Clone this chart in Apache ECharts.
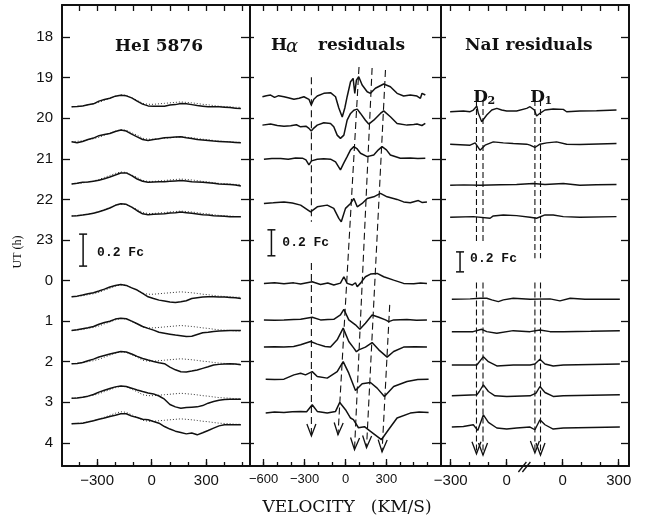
<!DOCTYPE html>
<html>
<head>
<meta charset="utf-8">
<title>HeI 5876, H&alpha; and NaI residual profiles</title>
<script src="https://cdn.jsdelivr.net/npm/echarts@6/dist/echarts.min.js"></script>
<style>
html,body{margin:0;padding:0;background:#fff;}
#chart{width:650px;height:519px;}
</style>
</head>
<body>
<div id="chart"></div>
<script>
// ================= data =================
// UT axis in hours, running on past midnight (24 = 0 h, 28 = 4 h)
const utTicks = [18, 19, 20, 21, 22, 23, 24, 25, 26, 27, 28];

// ---- HeI 5876: flux above the continuum in % of Fc, common velocity grid (km/s)
const heVelocity = [-440, -410, -380, -350, -320, -290, -260, -230, -200, -170, -140, -110, -80, -50, -20, 10,
                    40, 70, 100, 130, 160, 190, 220, 250, 280, 310, 340, 370, 400, 430, 460, 490];
const heTimes = [19.72, 20.58, 21.62, 22.41, 24.40, 25.23, 26.05, 26.90, 27.53];
// mean profile (dotted)
const heMean = [0, .3, .6, 1.3, 1.9, 2.8, 4.1, 5.3, 6.6, 7.5, 7.2, 5.6, 4.1, 2.2, 1.6, 1.6,
                1.9, 2.2, 2.5, 2.8, 3.1, 2.8, 2.5, 2.1, 1.6, 1.3, .8, .4, .2, 0, -.3, -.3];
const heI_1 = [0, .2, .6, 1.3, 1.9, 3.6, 4.6, 5.4, 6.7, 7.3, 6.9, 5.6, 3.6, 1.7, .6, .4, .4, .4, 1.1, 1.4, 2.1, 1.9, 1.4, .8, .4, 0, 0, 0, -.2, -.4, -.8, -1.1];
const heI_2 = [0, -.6, .2, 1.4, 2.3, 3.8, 4.6, 5.2, 6.4, 7.3, 6.7, 4.8, 3.1, 1.4, .8, 1.4, 1.9, 2.5, 2.7, 2.9, 3.1, 2.5, 2.1, 1.4, 1.1, .8, .4, .2, 0, -.2, -.4, -.6];
const heI_3 = [0, .4, 1.1, 1.3, 1.7, 2.3, 3.3, 4.4, 5.6, 6.9, 6.9, 5.2, 3.1, 1.7, 1.1, 1.3, 1.4, 1.4, 1.7, 1.9, 2.1, 1.9, 1.4, 1.3, 1.1, .8, .4, 0, -.2, -.4, -.6, -1.3];
const heI_4 = [0, .2, .6, 1.1, 1.7, 2.7, 3.8, 5, 6.7, 7.7, 7.3, 5.6, 3.3, 1.4, .8, 1.1, 1.3, 1.4, 1.9, 2.1, 2.5, 2.1, 1.7, 1.3, .8, .6, .2, 0, -.2, -.4, -.4, -.4];
const heI_5 = [0, .4, 1.1, 1.9, 2.5, 3.6, 4.8, 6.1, 7.1, 7.7, 7.1, 5.6, 4.2, 2.1, 0, -1.1, -2.1, -2.7, -3.3, -3.6, -3.1, -2.5, -1.1, -.6, -.2, 0, 0, -.2, -.2, -.4, -.6, -1.1];
const heI_6 = [0, .4, 1.1, 1.7, 2.5, 3.9, 5, 5.8, 7.1, 7.7, 7.3, 5.8, 4.2, 2.5, 1.3, .2, -1.1, -1.7, -2.3, -2.9, -3.3, -3.8, -3.6, -2.5, -1.4, -1.1, -.6, -.4, -.2, 0, 0, 0];
const heI_7 = [0, .2, .8, 1.9, 2.9, 4.2, 5.2, 6.1, 6.9, 7.7, 7.3, 6.1, 4.6, 3.3, 2.3, 1.4, .6, 0, -2.1, -3.8, -5, -5.2, -4.6, -3.9, -2.9, -1.9, -.8, -.4, -.2, 0, -.2, -.6];
const heI_8 = [0, .2, .6, 1.3, 2.3, 3.8, 5, 6.1, 7.1, 7.7, 7.3, 6.3, 5.2, 4.2, 3.3, 2.7, 1.4, -.6, -3.9, -5.4, -6.3, -5.8, -5.6, -5.4, -4.6, -3.1, -2.1, -1.3, -.8, -.6, -.6, -.6];
const heI_9 = [0, .2, .4, 1.1, 1.9, 2.9, 3.6, 4.6, 5.4, 6.3, 6.3, 4.8, 3.9, 2.9, 2.5, 1.4, .4, -1.7, -3.3, -4.6, -5.4, -6.3, -5.8, -6.9, -5.6, -4.2, -2.7, -1.3, -.6, -.6, -.6, -.6];
const heSpectra = [heI_1, heI_2, heI_3, heI_4, heI_5, heI_6, heI_7, heI_8, heI_9];

// ---- H-alpha residuals: [velocity km/s, % of Fc]
const haTimes = [19.47, 20.17, 21.01, 22.10, 24.07, 24.97, 25.64, 26.43, 27.25];
const ha_1 = [[-609,0],[-580,0.8],[-549,1.3],[-520,-0.5],[-490,0.8],[-451,0],[-420,-0.8],[-378,-2],[-340,-1.2],[-305,0],[-268,-2],[-251,-6.4],[-232,-2],[-207,0.5],[-159,2.6],[-110,3.1],[-73,0],[-49,-8.7],[-24,-15.6],[-5,-8.7],[12,0],[37,11.5],[56,14.1],[68,2.6],[80,12.8],[97,15.4],[122,9],[159,3.8],[183,2.6],[219,6.5],[280,9.8],[329,7.7],[378,2.6],[426,0.5],[475,1.3],[524,0.5],[549,-1.2],[561,2.6],[585,1.3]];
const ha_2 = [[-609,0],[-549,0.8],[-500,-0.3],[-451,-0.8],[-402,-0.5],[-360,0.3],[-329,-1.3],[-290,-0.8],[-268,-2.5],[-251,-4.6],[-232,-2.3],[-207,0],[-159,1.8],[-110,1.3],[-86,-1.3],[-61,-7.7],[-37,-10.2],[-12,-7.7],[12,3.8],[37,9],[61,11.5],[73,12.8],[86,12.3],[110,9],[146,3.8],[170,0.8],[207,3.8],[256,9],[280,11],[329,6.4],[378,1.3],[451,0],[500,0.5],[524,0.8],[560,-0.3],[585,1.3]];
const ha_3 = [[-598,0],[-540,0.5],[-475,0.6],[-420,0],[-366,1],[-316,0.8],[-290,-0.5],[-268,-4.4],[-249,-1.3],[-207,0],[-160,0.3],[-110,0],[-73,-2.1],[-37,-8.2],[-12,-2.8],[12,2],[37,7.2],[61,9.7],[86,7.9],[110,4.6],[159,2],[207,3.3],[241,7.2],[268,9.7],[300,7.2],[329,3.3],[402,0.8],[475,1],[530,0.5],[585,0.8]];
const ha_4 = [[-598,0],[-530,0.5],[-451,1.2],[-390,0.3],[-329,-1.3],[-256,-6.5],[-207,-2.6],[-134,-1.3],[-86,-3.8],[-49,-11.5],[-31,-14.1],[0,-3.8],[37,0],[61,3.8],[86,-2.6],[122,0],[159,3.8],[207,5.1],[256,7.7],[305,5.1],[378,3.1],[426,1.2],[475,0.5],[534,2.2],[560,0.8],[597,1.2]];
const ha_5 = [[-598,0],[-520,0.4],[-451,-0.2],[-380,0.4],[-329,-0.5],[-244,1.2],[-183,-0.9],[-130,0.3],[-86,-1.3],[-37,0.2],[-12,5.1],[12,0],[49,-1.3],[73,0.5],[86,-2.6],[110,0.2],[146,5.1],[183,7.2],[232,7.7],[280,5.1],[353,2.5],[426,0],[500,-0.3],[550,0.3],[597,0]];
const ha_6 = [[-598,0],[-520,-0.3],[-451,0],[-380,0.4],[-329,0.5],[-244,2.1],[-183,0],[-130,0.3],[-86,0.5],[-37,3.8],[-12,8.2],[24,0],[73,-3.8],[105,-7.2],[146,-2.5],[195,3.8],[244,2.1],[293,0],[317,-1.3],[353,0],[450,0.3],[520,-0.3],[597,0]];
const ha_7 = [[-598,0],[-520,0.3],[-451,0],[-380,0.5],[-329,1.8],[-256,4.3],[-207,2.3],[-150,0.5],[-110,0],[-61,5.6],[-17,14.6],[24,4.3],[61,-0.8],[80,-3.6],[97,-2.1],[146,0],[195,3.5],[244,-2.1],[305,-7.7],[353,-3.4],[426,0],[510,0.3],[597,0]];
const ha_8 = [[-585,0],[-520,-0.3],[-451,0],[-378,3.3],[-329,4.6],[-293,3.3],[-244,5.8],[-207,2],[-134,0.8],[-61,5.8],[-17,13.5],[24,4.6],[73,-8.8],[122,-3.6],[183,-2.6],[232,-6.9],[285,-13.4],[353,-5.7],[451,-1.8],[530,-0.3],[609,0]];
const ha_9 = [[-585,-0.5],[-520,0.3],[-451,0],[-390,0.5],[-329,0.8],[-285,0.5],[-244,5.9],[-207,0.8],[-134,-0.5],[-73,0.8],[-42,7.7],[0,2.1],[37,-4.3],[58,-5.6],[95,-11.8],[139,-11],[176,-14],[263,-21],[315,-13.3],[378,-4.3],[475,-0.5],[540,0.3],[609,0]];
const haSpectra = [ha_1, ha_2, ha_3, ha_4, ha_5, ha_6, ha_7, ha_8, ha_9];

// ---- NaI residuals: velocity measured from D2; D1 lies 300 km/s further along the axis
const naTimes = [19.84, 20.64, 21.65, 22.44, 24.46, 25.26, 26.08, 26.84, 27.61];
const na_1 = [[-303,0],[-232,0.7],[-196,0],[-179,1.7],[-160,5.7],[-152,-1.6],[-134,-10],[-107,-3.3],[-80,1.7],[-53,3.4],[-27,1.7],[0,0.7],[53,0.7],[107,3.4],[125,5],[148,1.7],[160,-4.3],[178,-1.6],[205,1.7],[249,2.7],[303,2.4],[321,0],[392,0.7],[481,1],[588,1.7]];
const na_2 = [[-303,0],[-196,-1],[-169,1.3],[-143,-6],[-116,-1],[-72,2.3],[-18,1.3],[35,0.7],[107,0],[125,-1],[151,-3.3],[178,0],[214,1.3],[267,2.3],[321,0],[392,-0.3],[588,0.7]];
const na_3 = [[-303,0],[-230,0.3],[-143,0],[-36,0.5],[53,0.7],[142,1.7],[205,0.7],[303,1.7],[392,0],[480,0.5],[588,0.7]];
const na_4 = [[-303,0],[-179,0.6],[-89,-1],[-72,1.3],[-18,2.3],[53,1.6],[125,0],[160,-1],[205,2.3],[249,2.3],[303,0.6],[392,0],[588,0.6]];
const na_5 = [[-294,0],[-196,0.3],[-143,1],[-107,1],[-80,-0.7],[-45,-2.4],[-18,-0.7],[35,1],[125,0],[232,0.3],[285,-1.7],[340,1],[419,0],[606,0]];
const na_6 = [[-294,0],[-180,0],[-134,2.4],[-107,0],[-53,-1.6],[35,1],[125,0],[178,1.7],[232,0],[303,0],[450,0.4],[606,1]];
const na_7 = [[-294,0],[-160,0],[-125,8.3],[-98,3.3],[-53,-1],[35,0],[125,0],[151,1],[178,5.7],[205,1],[249,-1],[303,0],[606,1]];
const na_8 = [[-294,0],[-160,1],[-147,4.3],[-125,11],[-98,4.3],[-63,0],[0,-0.7],[125,0],[157,2.7],[178,9.3],[205,3.3],[249,-0.7],[303,0],[606,1]];
const na_9 = [[-294,0],[-232,0.6],[-179,2.3],[-155,-3.4],[-125,12.3],[-98,4.6],[-53,-1],[0,-2],[53,-1],[125,0],[151,-2.7],[178,7.3],[205,2.3],[249,-2],[303,-1],[606,0]];
const naSpectra = [na_1, na_2, na_3, na_4, na_5, na_6, na_7, na_8, na_9];

// feature tracks: [velocity start, UT start, velocity end, UT end, arrow at end]
const haTracks = [[-250,18.99,-250,22.55,0],[-250,23.57,-250,27.83,1],[99,18.74,-55,27.80,1],
                  [195,18.76,66,28.17,1],[293,18.81,154,28.12,1],[324,24.60,268,28.22,1]];
const naTracks = [[-162,19.55,-162,23.10,0],[-162,24.05,-162,28.27,1],[-127,19.55,-127,23.10,0],[-127,24.05,-127,28.30,1],
                  [151,19.55,151,23.45,0],[151,24.05,151,28.25,1],[181,19.55,181,23.45,0],[181,24.05,181,28.30,1]];

// axis ticks and labels
const heTicks = [-400, -300, -200, -100, 0, 100, 200, 300, 400, 500];
const heLabels = [-300, 0, 300];
const haTicks = [-600, -500, -400, -300, -200, -100, 0, 100, 200, 300, 400, 500, 600];
const haLabels = [-600, -300, 0, 300];
const naTicks = [-300, -200, -100, 0, 200, 300, 400, 500, 600];
const naLabelValues = [-300, 0, 300, 600];
const naLabelText = ['\u2212300', '0', '0', '300'];

// ================= layout =================
const UT_MIN = 17.21, UT_MAX = 28.57;
const hoursPerFc = { he: 3.94, ha: 3.20, na: 2.46 };   // vertical scale of each panel
const INK = '#111';

const minus = v => (v < 0 ? '\u2212' + Math.abs(v) : String(v));

function traceSeries(xi, yi, pts, t, hpf, style, z) {
  return {
    type: 'line', xAxisIndex: xi, yAxisIndex: yi, silent: true, animation: false,
    symbol: 'none', z: z || 3,
    data: pts.map(p => [p[0], t - p[1] / 100 * hpf]),
    lineStyle: style
  };
}

function trackRender(dash) {
  return function (params, api) {
    const a = api.coord([api.value(0), api.value(1)]);
    const b = api.coord([api.value(2), api.value(3)]);
    const kids = [{
      type: 'line', shape: { x1: a[0], y1: a[1], x2: b[0], y2: b[1] },
      style: { stroke: INK, lineWidth: 1.1, lineDash: dash }
    }];
    if (api.value(4)) {
      const dx = b[0] - a[0], dy = b[1] - a[1], L = Math.hypot(dx, dy);
      const ux = dx / L, uy = dy / L, len = 12, w = 4.5;
      const bx = b[0] - ux * len, by = b[1] - uy * len;
      kids.push({
        type: 'polyline',
        shape: { points: [[bx - uy * w, by + ux * w], [b[0], b[1]], [bx + uy * w, by - ux * w]] },
        style: { stroke: INK, fill: null, lineWidth: 1.3 }
      });
    }
    return { type: 'group', children: kids };
  };
}

// 0.2 Fc scale bar, drawn in the panel's own flux scale
function scaleBarSeries(xi, yi, v, t, hpf, tv, tt) {
  return {
    type: 'custom', xAxisIndex: xi, yAxisIndex: yi, silent: true, animation: false, z: 5,
    data: [[v, t]],
    renderItem: function (params, api) {
      const half = 0.1 * hpf;
      const p1 = api.coord([api.value(0), api.value(1) - half]);
      const p2 = api.coord([api.value(0), api.value(1) + half]);
      const tp = api.coord([tv, tt]);
      const s = { stroke: INK, lineWidth: 1.5 };
      return {
        type: 'group', children: [
          { type: 'line', shape: { x1: p1[0], y1: p1[1], x2: p2[0], y2: p2[1] }, style: s },
          { type: 'line', shape: { x1: p1[0] - 4, y1: p1[1], x2: p1[0] + 4, y2: p1[1] }, style: s },
          { type: 'line', shape: { x1: p2[0] - 4, y1: p2[1], x2: p2[0] + 4, y2: p2[1] }, style: s },
          { type: 'text', x: tp[0], y: tp[1],
            style: { text: '0.2 Fc', fill: INK, font: 'bold 13px "Liberation Mono"', textAlign: 'left', textVerticalAlign: 'middle' } }
        ]
      };
    }
  };
}

// ---- axes
const tickStyle = { color: INK, width: 1.3 };
const lineStyle = { color: INK, width: 2 };
function xAxesFor(g, min, max, ticks, labels, labelFmt, fontSize) {
  return [
    { type: 'value', gridIndex: g, position: 'bottom', min: min, max: max, splitLine: { show: false },
      axisLine: { show: true, onZero: false, lineStyle: lineStyle },
      axisTick: { show: true, inside: true, length: 7, customValues: labels, lineStyle: tickStyle },
      axisLabel: { show: true, customValues: labels, formatter: labelFmt, color: INK,
                   fontSize: fontSize, fontFamily: 'Liberation Sans', margin: 7 } },
    { type: 'value', gridIndex: g, position: 'bottom', min: min, max: max, splitLine: { show: false },
      axisLine: { show: false },
      axisTick: { show: true, inside: true, length: 4, customValues: ticks, lineStyle: tickStyle },
      axisLabel: { show: false } },
    { type: 'value', gridIndex: g, position: 'top', min: min, max: max, splitLine: { show: false },
      axisLine: { show: true, onZero: false, lineStyle: lineStyle },
      axisTick: { show: true, inside: true, length: 6, customValues: ticks, lineStyle: tickStyle },
      axisLabel: { show: false } }
  ];
}
function yAxisFor(g, pos, tickLen, withLabels) {
  return {
    type: 'value', gridIndex: g, position: pos, inverse: true, min: UT_MIN, max: UT_MAX,
    splitLine: { show: false },
    axisLine: { show: true, onZero: false, lineStyle: lineStyle },
    axisTick: { show: true, inside: true, length: tickLen, customValues: utTicks, lineStyle: tickStyle },
    axisLabel: withLabels
      ? { show: true, customValues: utTicks, formatter: v => String(Math.round(v) % 24), color: INK,
          fontSize: 15, fontFamily: 'Liberation Sans', margin: 9 }
      : { show: false }
  };
}

const xAxes = [].concat(
  xAxesFor(0, -493, 540, heTicks, heLabels, minus, 15),
  xAxesFor(1, -700, 700, haTicks, haLabels, minus, 13),
  xAxesFor(2, -352, 655, naTicks, naLabelValues,
           v => naLabelText[naLabelValues.indexOf(Math.round(v))], 15)
);
// the top axis of the NaI panel keeps a tick where the bottom axis is broken
xAxes[8].axisTick.customValues = naTicks.concat([100]);

const yAxes = [
  yAxisFor(0, 'left', 8, true), yAxisFor(0, 'right', 9, false),
  yAxisFor(1, 'left', 4, false), yAxisFor(1, 'right', 9, false),
  yAxisFor(2, 'left', 5, false), yAxisFor(2, 'right', 8, false)
];

// ---- series
const series = [];
const solid = { color: INK, width: 1.5 };
heSpectra.forEach((spec, i) => {
  const t = heTimes[i];
  series.push(traceSeries(0, 0, heVelocity.map((v, k) => [v, heMean[k]]), t, hoursPerFc.he,
    { color: '#333', width: 1, type: [1, 2] }, 2));
  series.push(traceSeries(0, 0, heVelocity.map((v, k) => [v, spec[k]]), t, hoursPerFc.he, solid, 3));
});
haSpectra.forEach((spec, i) => series.push(traceSeries(3, 2, spec, haTimes[i], hoursPerFc.ha, solid, 3)));
naSpectra.forEach((spec, i) => series.push(traceSeries(6, 4, spec, naTimes[i], hoursPerFc.na, { color: INK, width: 1.4 }, 3)));

series.push({ type: 'custom', xAxisIndex: 3, yAxisIndex: 2, data: haTracks, encode: { x: [0, 2], y: [1, 3] },
              renderItem: trackRender([7, 4]), silent: true, animation: false, z: 4 });
series.push({ type: 'custom', xAxisIndex: 6, yAxisIndex: 4, data: naTracks, encode: { x: [0, 2], y: [1, 3] },
              renderItem: trackRender([6, 3]), silent: true, animation: false, z: 4 });

series.push(scaleBarSeries(0, 0, -377, 23.25, hoursPerFc.he, -300, 23.32));
series.push(scaleBarSeries(3, 2, -543, 23.07, hoursPerFc.ha, -463, 23.07));
series.push(scaleBarSeries(6, 4, -250, 23.54, hoursPerFc.na, -196, 23.47));

// D2 / D1 line labels and the axis break mark of the NaI panel
series.push({
  type: 'custom', xAxisIndex: 6, yAxisIndex: 4, silent: true, animation: false, z: 6,
  data: [[-140, 19.48], [165, 19.48]],
  renderItem: function (params, api) {
    const p = api.coord([api.value(0), api.value(1)]);
    const sub = params.dataIndex === 0 ? '2' : '1';
    return { type: 'group', children: [
      { type: 'text', x: p[0], y: p[1], style: { text: 'D', fill: INK, font: 'bold 17px "DejaVu Serif"', textAlign: 'center', textVerticalAlign: 'middle' } },
      { type: 'text', x: p[0] + 7, y: p[1] + 4, style: { text: sub, fill: INK, font: 'bold 11px "DejaVu Serif"', textAlign: 'left', textVerticalAlign: 'middle' } }
    ] };
  }
});
series.push({
  type: 'custom', xAxisIndex: 6, yAxisIndex: 4, silent: true, animation: false, z: 6, clip: false,
  data: [[100, UT_MAX]],
  renderItem: function (params, api) {
    const p = api.coord([api.value(0), api.value(1)]);
    const s = { stroke: INK, lineWidth: 1.3 };
    return { type: 'group', children: [
      { type: 'line', shape: { x1: p[0] - 7, y1: p[1] + 6, x2: p[0] + 1, y2: p[1] - 4 }, style: s },
      { type: 'line', shape: { x1: p[0] - 3, y1: p[1] + 6, x2: p[0] + 5, y2: p[1] - 4 }, style: s }
    ] };
  }
});

const titleFont = 'bold 17px "DejaVu Serif"';
const option = {
  animation: false,
  backgroundColor: '#fff',
  grid: [
    { left: 62, width: 188, top: 5, height: 461 },
    { left: 250, width: 191, top: 5, height: 461 },
    { left: 441, width: 188, top: 5, height: 461 }
  ],
  xAxis: xAxes,
  yAxis: yAxes,
  series: series,
  graphic: [
    { type: 'text', left: 115, top: 38, style: { text: 'HeI 5876', fill: INK, font: titleFont } },
    { type: 'text', left: 271, top: 37, style: { text: 'H', fill: INK, font: titleFont } },
    { type: 'text', left: 286, top: 38, style: { text: '\u03b1', fill: INK, font: 'italic 18px "DejaVu Serif"' } },
    { type: 'text', left: 318, top: 37, style: { text: 'residuals', fill: INK, font: titleFont } },
    { type: 'text', left: 465, top: 37, style: { text: 'NaI residuals', fill: INK, font: titleFont } },
    { type: 'text', x: 18, y: 252, rotation: Math.PI / 2,
      style: { text: 'UT (h)', fill: INK, font: '12px "Liberation Serif"', textAlign: 'center', textVerticalAlign: 'middle' } },
    { type: 'text', x: 347, y: 508,
      style: { text: 'VELOCITY   (KM/S)', fill: INK, font: '17px "DejaVu Serif"', textAlign: 'center', textVerticalAlign: 'middle' } }
  ]
};

const chart = echarts.init(document.getElementById('chart'), null, { renderer: 'canvas' });
chart.setOption(option);
</script>
</body>
</html>
